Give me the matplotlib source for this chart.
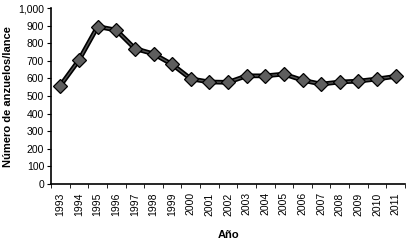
import numpy as np
import matplotlib
matplotlib.use("Agg")
import matplotlib.pyplot as plt
from matplotlib.ticker import FuncFormatter

plt.rcParams['font.family'] = ['Liberation Sans', 'DejaVu Sans']

# datos
years = ['1993', '1994', '1995', '1996', '1997', '1998', '1999', '2000', '2001', '2002',
         '2003', '2004', '2005', '2006', '2007', '2008', '2009', '2010', '2011']
hooks = [560, 705, 895, 875, 770, 740, 680, 598, 580, 578,
         615, 615, 625, 590, 568, 580, 585, 597, 612]

fig = plt.figure(figsize=(4.12, 2.46), dpi=100)
ax = fig.add_axes([0.124, 0.252, 0.859, 0.715])

x = np.arange(len(years))
ax.plot(x, hooks, color='black', lw=3.4, zorder=2, solid_joinstyle='round')
ax.plot(x, hooks, color='#555555', lw=1.0, zorder=3)
ax.plot(x, hooks, ls='none', marker='D', ms=7, mfc='#5e5e5e', mec='black', mew=0.9, zorder=4)

ax.set_xlim(-0.5, len(years) - 0.5)
ax.set_ylim(0, 1000)
ax.set_yticks(np.arange(0, 1001, 100))
ax.yaxis.set_major_formatter(FuncFormatter(lambda v, p: f'{int(v):,}'))
ax.set_xticks(x)
ax.set_xticklabels(years, rotation=90)
ax.set_xticks(np.arange(-0.5, len(years), 1), minor=True)
ax.tick_params(axis='x', which='major', length=0, labelsize=7.5, pad=6)
ax.tick_params(axis='x', which='minor', length=3, direction='out')
ax.tick_params(axis='y', length=3, direction='out', labelsize=7.5, pad=2)

for s in ['top', 'right']:
    ax.spines[s].set_visible(False)
for s in ['left', 'bottom']:
    ax.spines[s].set_linewidth(1.2)

ax.set_xlabel('Año', fontsize=8, fontweight='bold', labelpad=10)
ax.set_ylabel('Número de anzuelos/lance', fontsize=8, fontweight='bold', labelpad=4)

fig.savefig('out.png', dpi=100)
